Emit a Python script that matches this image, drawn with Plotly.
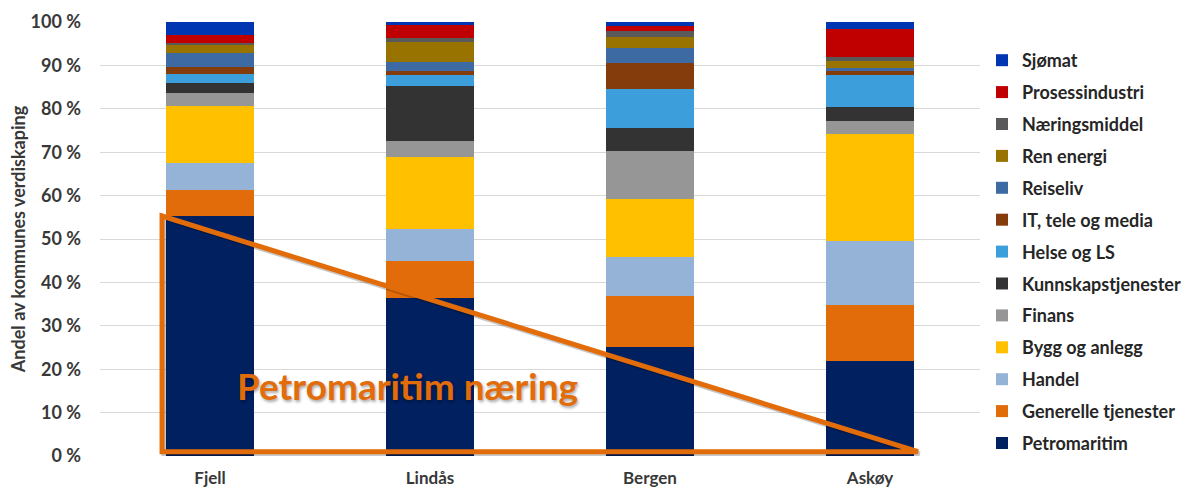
import plotly.graph_objects as go

# Municipalities on the x axis
kommuner = ["Fjell", "Lindås", "Bergen", "Askøy"]

# Share of each municipality's value creation (%), bottom segment first
petromaritim = [55.3, 36.5, 25.2, 21.9]
generelle_tjenester = [6.0, 8.4, 11.6, 12.8]
handel = [6.3, 7.5, 9.0, 14.9]
bygg_og_anlegg = [13.0, 16.5, 13.5, 24.5]
finans = [3.1, 3.7, 10.9, 3.1]
kunnskapstjenester = [2.2, 12.6, 5.4, 3.3]
helse_og_ls = [2.1, 2.6, 9.0, 7.4]
it_tele_media = [1.7, 0.8, 6.0, 0.8]
reiseliv = [3.2, 2.2, 3.5, 0.6]
ren_energi = [1.9, 4.5, 2.4, 1.7]
naeringsmiddel = [0.3, 0.9, 1.5, 0.9]
prosessindustri = [1.9, 3.0, 1.1, 6.4]
sjomat = [3.0, 0.8, 0.9, 1.7]

series = [
    ("Petromaritim", petromaritim, "#002060"),
    ("Generelle tjenester", generelle_tjenester, "#E36C0A"),
    ("Handel", handel, "#95B3D7"),
    ("Bygg og anlegg", bygg_og_anlegg, "#FFC000"),
    ("Finans", finans, "#969696"),
    ("Kunnskapstjenester", kunnskapstjenester, "#333333"),
    ("Helse og LS", helse_og_ls, "#3C9FDC"),
    ("IT, tele og media", it_tele_media, "#843C0C"),
    ("Reiseliv", reiseliv, "#3D6AA2"),
    ("Ren energi", ren_energi, "#997300"),
    ("Næringsmiddel", naeringsmiddel, "#595959"),
    ("Prosessindustri", prosessindustri, "#C00000"),
    ("Sjømat", sjomat, "#0036B2"),
]

FONT = "Lato"
TXT = "#383838"
ORANGE = "#E36C0A"

xpos = list(range(len(kommuner)))

fig = go.Figure()
for i, (name, vals, color) in enumerate(series):
    fig.add_trace(go.Bar(
        x=xpos, y=vals, name=name, width=0.4,
        marker=dict(color=color, line=dict(width=0)),
        legendgroup=name,
        legendrank=1000 - i,  # top segment listed first
    ))

# Triangle highlighting the falling petromaritime share
tx0, tx1 = -0.218, 3.218
ytop, ybot = petromaritim[0], 1.0
tri = f"M {tx0},{ytop} L {tx0},{ybot} L {tx1},{ybot} Z"
tri_shadow = f"M {tx0+0.008},{ytop-0.5} L {tx0+0.008},{ybot-0.5} L {tx1+0.008},{ybot-0.5} Z"
fig.add_shape(type="path", path=tri_shadow, xref="x", yref="y",
              line=dict(color="rgba(0,0,0,0.22)", width=5))
fig.add_shape(type="path", path=tri, xref="x", yref="y",
              line=dict(color=ORANGE, width=5))

fig.add_annotation(
    x=0.898, y=16.3, xref="x", yref="y", text="<b>Petromaritim næring</b>",
    showarrow=False, font=dict(family=FONT, size=37, color=ORANGE,
                               shadow="1px 2px 3px rgba(0,0,0,0.35)"),
)

fig.add_annotation(
    x=-0.093, y=0.5, xref="paper", yref="paper", textangle=-90,
    xanchor="center", yanchor="middle",
    text="<b>Andel av kommunes verdiskaping</b>", showarrow=False,
    font=dict(family=FONT, size=18, color=TXT),
)

fig.update_layout(
    barmode="stack",
    width=1186, height=490,
    margin=dict(l=100, r=206, t=22, b=34, autoexpand=False),
    paper_bgcolor="white", plot_bgcolor="white",
    font=dict(family=FONT, color=TXT),
    legend=dict(
        traceorder="grouped",
        xref="container", yref="container",
        x=0.828, xanchor="left", y=0.9143, yanchor="top",
        maxheight=1,
        font=dict(family=FONT, size=18, color="#262626", weight="bold"),
        tracegroupgap=5.5, itemclick=False,
    ),
    xaxis=dict(
        range=[-0.5, 3.5], tickvals=xpos, ticktext=[f"<b>{k}</b>" for k in kommuner],
        tickfont=dict(family=FONT, size=17, color=TXT),
        showgrid=False, zeroline=False, showline=False, ticks="",
        ticklabelstandoff=10, automargin=False,
    ),
    yaxis=dict(
        range=[0, 100], dtick=10, ticksuffix=" %",
        tickfont=dict(family=FONT, size=18, color=TXT, weight="bold"),
        showgrid=True, gridcolor="#D9D9D9", gridwidth=1,
        zeroline=False, showline=False, ticks="", ticklabelstandoff=18,
        automargin=False,
    ),
    showlegend=True,
)

fig.write_html("out.html")
